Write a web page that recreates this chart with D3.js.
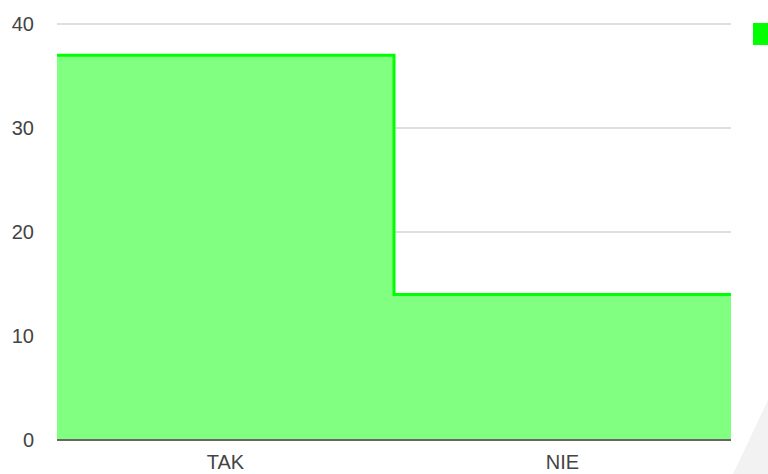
<!DOCTYPE html>
<html lang="pl">
<head>
<meta charset="utf-8">
<title>TAK / NIE</title>
<script src="https://d3js.org/d3.v7.min.js"></script>
<style>
body{
  margin:0;
  background:#fff;
}
.axis text{
  font: 20px Arial, "Liberation Sans", sans-serif;
  fill:#444;
}
.grid line{
  stroke:#d4d4d4;
  stroke-width:1.5;
}
</style>
</head>
<body>
<div id="chart"></div>
<script>
  var categories = ["TAK", "NIE"];
  var values = [37, 14];
  var yTicks = [0, 10, 20, 30, 40];

  var W = 768, H = 474;
  var margin = {top:24, right:37, bottom:34, left:57};
  var w = W - margin.left - margin.right,
      h = H - margin.top - margin.bottom;

  var svg = d3.select("#chart")
    .append("svg")
    .attr("width", W)
    .attr("height", H)
    .style("display","block");

  // grey corner in the bottom right of the screenshot
  svg.append("polygon")
    .attr("points", "768,400 768,474 733,474")
    .attr("fill", "#f2f2f2");

  var chart = svg.append("g")
    .attr("transform","translate("+margin.left+","+margin.top+")");

  var x = d3.scaleBand().domain(categories).range([0,w]);
  var y = d3.scaleLinear().domain([0,40]).range([h,0]);

  // gridlines
  chart.append("g")
    .attr("class","grid")
    .selectAll("line")
    .data(yTicks.slice(1))
    .enter()
    .append("line")
    .attr("x1",0).attr("x2",w)
    .attr("y1",function(d){return y(d);})
    .attr("y2",function(d){return y(d);});

  // step points: each category from its band start, last one runs to the end
  var pts = categories.map(function(c,i){ return [x(c), values[i]]; });
  pts.push([x.range()[1], values[values.length-1]]);

  var area = d3.area()
    .x(function(d){return d[0];})
    .y0(h)
    .y1(function(d){return y(d[1]);})
    .curve(d3.curveStepAfter);

  var line = d3.line()
    .x(function(d){return d[0];})
    .y(function(d){return y(d[1]);})
    .curve(d3.curveStepAfter);

  chart.append("path")
    .datum(pts)
    .attr("d", area)
    .attr("fill","#80ff80");

  chart.append("path")
    .datum(pts)
    .attr("d", line)
    .attr("fill","none")
    .attr("stroke","#00ff00")
    .attr("stroke-width",3);

  // baseline
  chart.append("line")
    .attr("x1",0).attr("x2",w)
    .attr("y1",h).attr("y2",h)
    .attr("stroke","#666")
    .attr("stroke-width",2);

  // y labels
  var yAxis = chart.append("g")
    .attr("class","axis")
    .attr("transform","translate(-23,0)")
    .call(d3.axisLeft(y).tickValues(yTicks).tickSize(0).tickPadding(0));
  yAxis.select(".domain").remove();

  // x labels
  var xAxis = chart.append("g")
    .attr("class","axis")
    .attr("transform","translate(0,"+h+")")
    .call(d3.axisBottom(x).tickSize(0).tickPadding(15));
  xAxis.select(".domain").remove();

  // legend swatch (cut off at the right edge)
  svg.append("rect")
    .attr("x",753).attr("y",23)
    .attr("width",22).attr("height",22)
    .attr("fill","#00ff00");
</script>
</body>
</html>
